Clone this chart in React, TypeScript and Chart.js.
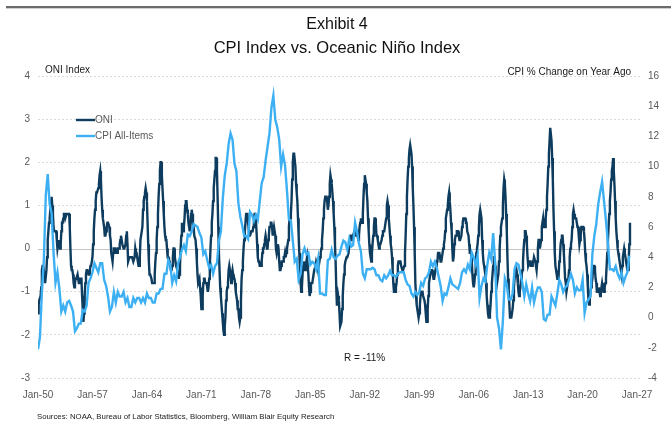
import React, { useEffect, useRef } from 'react';
import { Chart, registerables } from 'chart.js';

Chart.register(...registerables);

// ---------- DATA ----------
const START_YEAR = 1950;

// x-axis tick years and labels
const xTickYears = [1950, 1957, 1964, 1971, 1978, 1985, 1992, 1999, 2006, 2013, 2020, 2027];
const xTickLabels = ['Jan-50', 'Jan-57', 'Jan-64', 'Jan-71', 'Jan-78', 'Jan-85', 'Jan-92', 'Jan-99', 'Jan-06', 'Jan-13', 'Jan-20', 'Jan-27'];

// Oceanic Niño Index, monthly from Jan-1950
const oniMonthly = [
  -1.5, -1.3, -1.2, -1.2, -1.1, -0.9, -0.5, -0.4, -0.4, -0.4, -0.6, -0.8, // 1950
  -0.8, -0.5, -0.2, 0.2, 0.4, 0.6, 0.7, 0.9, 1.0, 1.2, 1.0, 0.8, // 1951
  0.5, 0.4, 0.4, 0.4, 0.4, 0.2, 0.0, 0.1, 0.2, 0.1, 0.0, 0.1, // 1952
  0.4, 0.6, 0.6, 0.7, 0.8, 0.8, 0.7, 0.7, 0.8, 0.8, 0.8, 0.8, // 1953
  0.8, 0.5, 0.0, -0.4, -0.5, -0.5, -0.6, -0.8, -0.9, -0.8, -0.7, -0.7, // 1954
  -0.7, -0.6, -0.7, -0.8, -0.8, -0.7, -0.7, -0.7, -1.1, -1.4, -1.7, -1.5, // 1955
  -1.1, -0.8, -0.6, -0.5, -0.5, -0.5, -0.6, -0.6, -0.5, -0.4, -0.4, -0.4, // 1956
  -0.2, 0.1, 0.4, 0.7, 0.9, 1.1, 1.3, 1.3, 1.3, 1.4, 1.5, 1.7, // 1957
  1.8, 1.6, 1.2, 0.9, 0.7, 0.6, 0.5, 0.3, 0.3, 0.4, 0.5, 0.6, // 1958
  0.6, 0.6, 0.5, 0.3, 0.2, -0.1, -0.2, -0.3, -0.1, 0.0, 0.0, 0.0, // 1959
  -0.1, -0.1, -0.1, 0.0, 0.0, 0.0, 0.1, 0.2, 0.3, 0.2, 0.1, 0.1, // 1960
  0.0, 0.0, 0.0, 0.1, 0.3, 0.4, 0.1, -0.3, -0.3, -0.2, -0.2, -0.2, // 1961
  -0.2, -0.2, -0.2, -0.3, -0.3, -0.2, 0.0, -0.1, -0.1, -0.2, -0.3, -0.4, // 1962
  -0.4, -0.2, 0.2, 0.3, 0.3, 0.5, 0.9, 1.1, 1.2, 1.3, 1.4, 1.3, // 1963
  1.1, 0.6, 0.1, -0.3, -0.6, -0.6, -0.6, -0.7, -0.8, -0.8, -0.8, -0.8, // 1964
  -0.6, -0.3, -0.1, 0.2, 0.5, 0.8, 1.2, 1.5, 1.8, 2.0, 2.0, 1.7, // 1965
  1.4, 1.1, 0.8, 0.5, 0.3, 0.2, 0.2, 0.0, -0.2, -0.2, -0.3, -0.3, // 1966
  -0.4, -0.5, -0.5, -0.4, -0.2, 0.0, 0.0, -0.2, -0.3, -0.4, -0.4, -0.5, // 1967
  -0.6, -0.7, -0.6, -0.4, 0.0, 0.3, 0.6, 0.5, 0.4, 0.5, 0.7, 1.0, // 1968
  1.1, 1.1, 0.9, 0.8, 0.6, 0.5, 0.4, 0.5, 0.8, 0.9, 0.8, 0.6, // 1969
  0.5, 0.3, 0.3, 0.2, 0.0, -0.3, -0.6, -0.8, -0.8, -0.7, -0.9, -1.1, // 1970
  -1.4, -1.4, -1.1, -0.8, -0.7, -0.7, -0.8, -0.8, -0.8, -0.9, -1.0, -0.9, // 1971
  -0.7, -0.4, 0.0, 0.3, 0.6, 0.8, 1.1, 1.4, 1.6, 1.8, 2.1, 2.1, // 1972
  1.8, 1.2, 0.5, -0.1, -0.5, -0.9, -1.1, -1.3, -1.5, -1.7, -1.9, -2.0, // 1973
  -1.8, -1.6, -1.2, -1.0, -0.9, -0.8, -0.5, -0.4, -0.4, -0.6, -0.8, -0.6, // 1974
  -0.5, -0.6, -0.7, -0.7, -0.8, -1.0, -1.1, -1.2, -1.4, -1.4, -1.6, -1.7, // 1975
  -1.6, -1.2, -0.7, -0.5, -0.3, 0.0, 0.2, 0.4, 0.6, 0.8, 0.8, 0.8, // 1976
  0.6, 0.6, 0.3, 0.3, 0.3, 0.4, 0.4, 0.4, 0.5, 0.7, 0.8, 0.8, // 1977
  0.7, 0.4, 0.1, -0.2, -0.3, -0.3, -0.4, -0.4, -0.4, -0.3, -0.1, 0.0, // 1978
  0.0, 0.1, 0.2, 0.3, 0.2, 0.0, 0.0, 0.2, 0.3, 0.5, 0.5, 0.6, // 1979
  0.6, 0.5, 0.3, 0.4, 0.5, 0.5, 0.3, 0.0, -0.1, 0.0, 0.1, 0.0, // 1980
  -0.3, -0.5, -0.5, -0.4, -0.3, -0.3, -0.3, -0.2, -0.2, -0.1, -0.2, -0.1, // 1981
  0.0, 0.1, 0.2, 0.5, 0.7, 0.7, 0.8, 1.1, 1.6, 2.0, 2.2, 2.2, // 1982
  2.2, 1.9, 1.5, 1.3, 1.1, 0.7, 0.3, -0.1, -0.5, -0.8, -1.0, -0.9, // 1983
  -0.6, -0.4, -0.3, -0.4, -0.5, -0.4, -0.3, -0.2, -0.2, -0.6, -0.9, -1.1, // 1984
  -1.0, -0.8, -0.8, -0.8, -0.8, -0.6, -0.5, -0.5, -0.4, -0.3, -0.3, -0.4, // 1985
  -0.5, -0.5, -0.3, -0.2, -0.1, 0.0, 0.2, 0.4, 0.7, 0.9, 1.1, 1.2, // 1986
  1.2, 1.2, 1.1, 0.9, 1.0, 1.2, 1.5, 1.7, 1.6, 1.5, 1.3, 1.1, // 1987
  0.8, 0.5, 0.1, -0.3, -0.9, -1.3, -1.3, -1.1, -1.2, -1.5, -1.8, -1.8, // 1988
  -1.7, -1.4, -1.1, -0.8, -0.6, -0.4, -0.3, -0.3, -0.2, -0.2, -0.2, -0.1, // 1989
  0.1, 0.2, 0.3, 0.3, 0.2, 0.2, 0.3, 0.3, 0.4, 0.3, 0.4, 0.4, // 1990
  0.4, 0.3, 0.2, 0.3, 0.5, 0.6, 0.7, 0.6, 0.6, 0.8, 1.2, 1.5, // 1991
  1.7, 1.6, 1.5, 1.3, 1.1, 0.7, 0.4, 0.1, -0.1, -0.2, -0.3, -0.1, // 1992
  0.1, 0.3, 0.5, 0.7, 0.7, 0.6, 0.3, 0.3, 0.2, 0.1, 0.0, 0.1, // 1993
  0.1, 0.1, 0.2, 0.3, 0.4, 0.4, 0.4, 0.4, 0.6, 0.7, 1.0, 1.1, // 1994
  1.0, 0.7, 0.5, 0.3, 0.1, 0.0, -0.2, -0.5, -0.8, -1.0, -1.0, -1.0, // 1995
  -0.9, -0.8, -0.6, -0.4, -0.3, -0.3, -0.3, -0.3, -0.4, -0.4, -0.5, -0.5, // 1996
  -0.5, -0.4, -0.1, 0.3, 0.8, 1.2, 1.6, 1.9, 2.1, 2.3, 2.4, 2.4, // 1997
  2.2, 1.9, 1.4, 1.0, 0.5, -0.1, -0.8, -1.1, -1.3, -1.4, -1.5, -1.6, // 1998
  -1.5, -1.3, -1.1, -1.0, -1.0, -1.0, -1.1, -1.1, -1.2, -1.3, -1.5, -1.7, // 1999
  -1.7, -1.4, -1.1, -0.8, -0.7, -0.6, -0.6, -0.5, -0.5, -0.6, -0.7, -0.7, // 2000
  -0.7, -0.5, -0.4, -0.3, -0.3, -0.1, -0.1, -0.1, -0.2, -0.3, -0.3, -0.3, // 2001
  -0.1, 0.0, 0.1, 0.2, 0.4, 0.7, 0.8, 0.9, 1.0, 1.2, 1.3, 1.1, // 2002
  0.9, 0.6, 0.4, 0.0, -0.3, -0.2, 0.1, 0.2, 0.3, 0.3, 0.4, 0.4, // 2003
  0.4, 0.3, 0.2, 0.2, 0.2, 0.3, 0.5, 0.6, 0.7, 0.7, 0.7, 0.7, // 2004
  0.6, 0.6, 0.4, 0.4, 0.3, 0.1, -0.1, -0.1, -0.1, -0.3, -0.6, -0.8, // 2005
  -0.9, -0.8, -0.6, -0.4, -0.1, 0.0, 0.1, 0.3, 0.5, 0.8, 0.9, 0.9, // 2006
  0.7, 0.2, -0.1, -0.3, -0.4, -0.5, -0.6, -0.8, -1.1, -1.3, -1.5, -1.6, // 2007
  -1.6, -1.5, -1.3, -1.0, -0.8, -0.6, -0.4, -0.2, -0.2, -0.4, -0.6, -0.7, // 2008
  -0.8, -0.8, -0.6, -0.3, 0.0, 0.3, 0.5, 0.6, 0.7, 1.0, 1.4, 1.6, // 2009
  1.5, 1.2, 0.8, 0.4, -0.2, -0.7, -1.0, -1.3, -1.6, -1.6, -1.6, -1.6, // 2010
  -1.4, -1.2, -0.9, -0.7, -0.6, -0.4, -0.5, -0.6, -0.8, -1.0, -1.1, -1.0, // 2011
  -0.9, -0.7, -0.6, -0.5, -0.3, 0.0, 0.2, 0.4, 0.4, 0.3, 0.1, -0.2, // 2012
  -0.4, -0.4, -0.3, -0.3, -0.4, -0.4, -0.4, -0.3, -0.3, -0.2, -0.2, -0.3, // 2013
  -0.4, -0.5, -0.3, 0.0, 0.2, 0.2, 0.0, 0.1, 0.2, 0.5, 0.6, 0.7, // 2014
  0.5, 0.5, 0.5, 0.7, 0.9, 1.2, 1.5, 1.9, 2.2, 2.5, 2.8, 2.8, // 2015
  2.5, 2.1, 1.6, 0.9, 0.4, -0.1, -0.4, -0.5, -0.6, -0.7, -0.7, -0.6, // 2016
  -0.3, -0.2, 0.1, 0.2, 0.3, 0.3, 0.1, -0.1, -0.4, -0.7, -0.8, -1.0, // 2017
  -0.9, -0.9, -0.7, -0.5, -0.2, 0.0, 0.1, 0.2, 0.5, 0.8, 0.9, 0.8, // 2018
  0.7, 0.7, 0.7, 0.7, 0.5, 0.5, 0.3, 0.1, 0.2, 0.3, 0.5, 0.5, // 2019
  0.5, 0.5, 0.4, 0.2, -0.1, -0.3, -0.4, -0.6, -0.9, -1.2, -1.3, -1.2, // 2020
  -1.0, -0.9, -0.8, -0.7, -0.5, -0.4, -0.4, -0.5, -0.7, -0.8, -1.0, -1.0, // 2021
  -1.0, -0.9, -1.0, -1.1, -1.0, -0.9, -0.8, -0.9, -1.0, -1.0, -0.9, -0.8, // 2022
  -0.7, -0.4, -0.1, 0.2, 0.5, 0.8, 1.1, 1.3, 1.6, 1.8, 1.9, 2.1, // 2023
  1.8, 1.5, 1.1, 0.7, 0.4, 0.2, 0.0, -0.1, -0.2, -0.3, -0.4, -0.5, // 2024
  -0.6, -0.4, -0.2, -0.1, 0.0, -0.1, -0.2, -0.3, -0.4, -0.5, -0.5, -0.3, // 2025
  0.1, 0.6, // 2026
];

// CPI All-Items, % change on year ago, quarterly (Jan, Apr, Jul, Oct) from Jan-1950
const cpiQuarterly = [
  -2.1, -1.3, 1.7, 3.8, // 1950
  8.1, 9.5, 7.5, 6.9, // 1951
  4.3, 2.3, 3.0, 1.9, // 1952
  0.4, 0.8, 0.4, 1.0, // 1953
  1.1, 0.8, 0.4, -0.9, // 1954
  -0.7, -0.4, -0.4, 0.5, // 1955
  0.4, 0.8, 2.3, 2.6, // 1956
  3.0, 3.6, 3.3, 3.0, // 1957
  3.6, 3.6, 2.5, 2.1, // 1958
  1.4, 0.4, 0.7, 1.7, // 1959
  1.0, 1.7, 1.4, 1.4, // 1960
  1.7, 1.0, 1.3, 0.7, // 1961
  0.7, 1.3, 1.0, 1.3, // 1962
  1.3, 1.0, 1.3, 1.0, // 1963
  1.6, 1.3, 1.3, 1.0, // 1964
  1.0, 1.6, 1.6, 1.9, // 1965
  1.9, 2.9, 2.9, 3.8, // 1966
  3.5, 2.3, 2.8, 2.4, // 1967
  3.6, 4.0, 4.5, 4.8, // 1968
  4.4, 5.5, 5.4, 5.7, // 1969
  6.2, 6.1, 6.0, 5.6, // 1970
  5.3, 4.2, 4.4, 3.8, // 1971
  3.3, 3.5, 2.9, 3.4, // 1972
  3.6, 5.1, 5.7, 7.9, // 1973
  9.4, 10.2, 11.5, 12.2, // 1974
  11.8, 10.2, 9.7, 7.6, // 1975
  6.7, 6.1, 5.4, 5.4, // 1976
  5.2, 7.0, 6.8, 6.4, // 1977
  6.8, 6.5, 7.7, 8.9, // 1978
  9.3, 10.4, 11.3, 12.2, // 1979
  13.9, 14.7, 13.1, 12.6, // 1980
  11.8, 10.0, 10.8, 10.1, // 1981
  8.4, 6.5, 6.4, 5.1, // 1982
  3.7, 3.9, 2.5, 2.9, // 1983
  4.2, 4.6, 4.2, 4.3, // 1984
  3.5, 3.7, 3.6, 3.2, // 1985
  3.9, 1.6, 1.6, 1.5, // 1986
  1.5, 3.8, 3.9, 4.5, // 1987
  4.0, 3.9, 4.1, 4.2, // 1988
  4.7, 5.1, 5.0, 4.5, // 1989
  5.2, 4.7, 4.8, 6.3, // 1990
  5.7, 4.9, 4.4, 2.9, // 1991
  2.6, 3.2, 3.2, 3.2, // 1992
  3.3, 3.2, 2.8, 2.8, // 1993
  2.5, 2.4, 2.8, 2.6, // 1994
  2.8, 3.1, 2.8, 2.8, // 1995
  2.7, 2.9, 3.0, 3.0, // 1996
  3.0, 2.5, 2.2, 2.1, // 1997
  1.6, 1.4, 1.7, 1.5, // 1998
  1.7, 2.3, 2.1, 2.6, // 1999
  2.7, 3.0, 3.7, 3.4, // 2000
  3.7, 3.3, 2.7, 2.1, // 2001
  1.1, 1.6, 1.5, 2.0, // 2002
  2.6, 2.2, 2.1, 2.0, // 2003
  1.9, 2.3, 3.0, 3.2, // 2004
  3.0, 3.5, 3.2, 4.3, // 2005
  4.0, 3.5, 4.1, 1.3, // 2006
  2.1, 2.6, 2.4, 3.5, // 2007
  4.3, 3.9, 5.6, 3.7, // 2008
  0.0, -0.7, -2.1, -0.2, // 2009
  2.6, 2.2, 1.2, 1.2, // 2010
  1.6, 3.2, 3.6, 3.5, // 2011
  2.9, 2.3, 1.4, 2.2, // 2012
  1.6, 1.1, 2.0, 1.0, // 2013
  1.6, 2.0, 2.0, 1.7, // 2014
  -0.1, -0.2, 0.2, 0.2, // 2015
  1.4, 1.1, 0.8, 1.6, // 2016
  2.5, 2.2, 1.7, 2.0, // 2017
  2.1, 2.5, 2.9, 2.5, // 2018
  1.6, 2.0, 1.8, 1.8, // 2019
  2.5, 0.3, 1.0, 1.2, // 2020
  1.4, 4.2, 5.4, 6.2, // 2021
  7.5, 8.3, 9.0, 7.7, // 2022
  6.4, 4.9, 3.2, 3.2, // 2023
  3.1, 3.4, 2.9, 2.6, // 2024
  3.0, 2.3, 2.7, 3.0, // 2025
  4.1, // 2026
];

const seriesNames = ['ONI', 'CPI All-Items'];
const rValueText = 'R = -11%';

// ---------- STYLE ----------
const ONI_COLOR = '#0e3c5e';
const CPI_COLOR = '#3cb0f2';
const FONT = "'Liberation Sans', Arial, sans-serif";
const TICK_COLOR = '#595959';

const decorPlugin = {
  id: 'decor',
  beforeDatasetsDraw(chart: any) {
    const { ctx, chartArea, scales } = chart;
    const y0 = Math.round(scales.y.getPixelForValue(0)) + 0.5;
    ctx.save();
    ctx.strokeStyle = '#c4c4c4';
    ctx.lineWidth = 1;
    ctx.beginPath();
    ctx.moveTo(chartArea.left, y0);
    ctx.lineTo(chartArea.right, y0);
    ctx.stroke();
    ctx.restore();
  },
  afterDraw(chart: any) {
    const { ctx, width } = chart;
    ctx.save();
    // top rule
    ctx.fillStyle = '#6b6b6b';
    ctx.fillRect(6, 6, width - 6, 2);
    ctx.fillStyle = '#cfcfcf';
    ctx.fillRect(6, 8, width - 6, 1);

    ctx.fillStyle = '#111';
    ctx.textAlign = 'center';
    ctx.textBaseline = 'middle';
    ctx.font = `16px ${FONT}`;
    ctx.fillText('Exhibit 4', 337, 25);
    ctx.font = `16.5px ${FONT}`;
    ctx.fillText('CPI Index vs. Oceanic Niño Index', 337, 48);

    ctx.font = `10px ${FONT}`;
    ctx.fillStyle = '#1a1a1a';
    ctx.textAlign = 'left';
    ctx.fillText('ONI Index', 45, 70);
    ctx.textAlign = 'right';
    ctx.fillText('CPI % Change on Year Ago', 631, 72);

    // legend
    const legendItems = [
      { label: seriesNames[0], color: ONI_COLOR, y: 120 },
      { label: seriesNames[1], color: CPI_COLOR, y: 136 },
    ];
    ctx.textAlign = 'left';
    ctx.fillStyle = TICK_COLOR;
    legendItems.forEach((it) => {
      ctx.strokeStyle = it.color;
      ctx.lineWidth = 2.4;
      ctx.beginPath();
      ctx.moveTo(76, it.y);
      ctx.lineTo(95, it.y);
      ctx.stroke();
      ctx.fillText(it.label, 95, it.y);
    });

    // R label
    ctx.fillStyle = '#1a1a1a';
    ctx.font = `10px ${FONT}`;
    ctx.fillText(rValueText, 344, 358);

    // sources
    ctx.font = `7.8px ${FONT}`;
    ctx.fillStyle = '#1a1a1a';
    ctx.fillText('Sources: NOAA, Bureau of Labor Statistics, Bloomberg, William Blair Equity Research', 37, 417);
    ctx.restore();
  },
};

export default function App() {
  const canvasRef = useRef<HTMLCanvasElement | null>(null);

  useEffect(() => {
    const canvas = canvasRef.current;
    if (!canvas) return;
    const oniData = oniMonthly.map((v, i) => ({ x: START_YEAR + i / 12, y: v }));
    const cpiData = cpiQuarterly.map((v, i) => ({ x: START_YEAR + i / 4, y: v }));

    const chart = new Chart(canvas, {
      type: 'line',
      data: {
        datasets: [
          {
            label: seriesNames[0],
            data: oniData,
            yAxisID: 'y',
            borderColor: ONI_COLOR,
            borderWidth: 2.4,
            pointRadius: 0,
            tension: 0,
            order: 1,
          },
          {
            label: seriesNames[1],
            data: cpiData,
            yAxisID: 'y1',
            borderColor: CPI_COLOR,
            borderWidth: 2.4,
            pointRadius: 0,
            tension: 0,
            order: 0,
          },
        ],
      },
      options: {
        responsive: false,
        animation: false,
        devicePixelRatio: 1,
        layout: { padding: { top: 76, bottom: 17, left: 0, right: 0 } },
        plugins: {
          legend: { display: false },
          tooltip: { enabled: false },
          title: { display: false },
        },
        scales: {
          x: {
            type: 'linear',
            min: 1950,
            max: 2027.5,
            afterBuildTicks: (scale: any) => {
              scale.ticks = xTickYears.map((v) => ({ value: v }));
            },
            afterFit: (scale: any) => {
              scale.height = 30;
            },
            ticks: {
              autoSkip: false,
              maxRotation: 0,
              padding: 3,
              color: TICK_COLOR,
              font: { family: FONT, size: 10 },
              callback: (v: any) => {
                const idx = xTickYears.indexOf(Number(v));
                return idx >= 0 ? xTickLabels[idx] : '';
              },
            },
            grid: { display: false },
            border: { display: false },
          },
          y: {
            position: 'left',
            min: -3,
            max: 4,
            afterFit: (scale: any) => {
              scale.width = 38;
            },
            ticks: {
              stepSize: 1,
              padding: 8,
              color: TICK_COLOR,
              font: { family: FONT, size: 10 },
            },
            grid: {
              drawTicks: false,
              lineWidth: 1,
              color: (ctx: any) => (ctx.tick && ctx.tick.value === 0 ? 'rgba(0,0,0,0)' : '#dadada'),
            },
            border: { display: false, dash: [2, 2] },
          },
          y1: {
            position: 'right',
            min: -4,
            max: 16,
            afterFit: (scale: any) => {
              scale.width = 30;
            },
            ticks: {
              stepSize: 2,
              padding: 7,
              color: TICK_COLOR,
              font: { family: FONT, size: 10 },
            },
            grid: { display: false, drawTicks: false },
            border: { display: false },
          },
        },
      },
      plugins: [decorPlugin],
    } as any);

    return () => chart.destroy();
  }, []);

  return (
    <div style={{ position: 'fixed', left: 0, top: 0, width: 671, height: 425, background: '#fff' }}>
      <canvas ref={canvasRef} width={671} height={425} style={{ width: 671, height: 425, display: 'block' }} />
    </div>
  );
}
